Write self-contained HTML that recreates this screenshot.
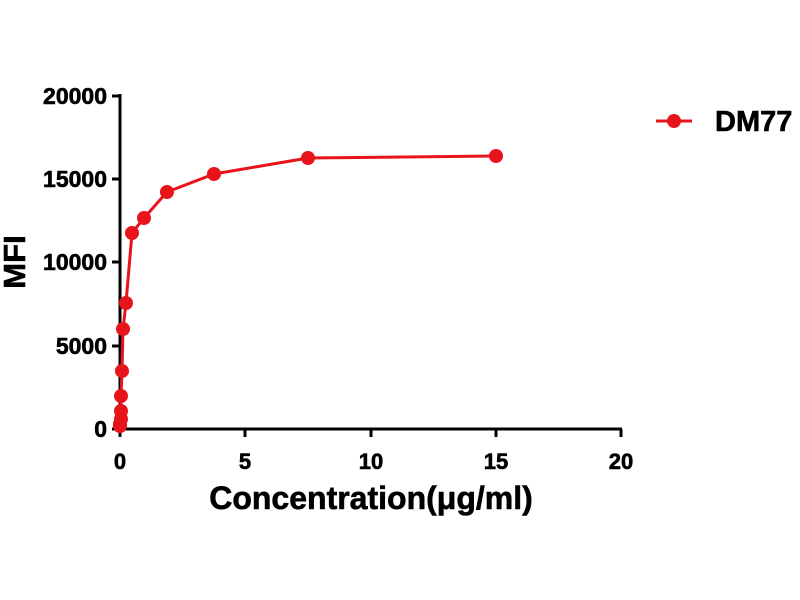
<!DOCTYPE html>
<html><head><style>body{margin:0;background:#fff}svg{display:block}</style></head><body>
<svg width="800" height="600" xmlns="http://www.w3.org/2000/svg" font-family="Liberation Sans, Arial, sans-serif" font-weight="bold">
<g stroke="#000" stroke-width="3" fill="none">
<line x1="120" y1="94" x2="120" y2="431"/>
<line x1="119" y1="429" x2="622" y2="429"/>
<line x1="112" y1="96" x2="120" y2="96"/>
<line x1="112" y1="179" x2="120" y2="179"/>
<line x1="112" y1="262" x2="120" y2="262"/>
<line x1="112" y1="346" x2="120" y2="346"/>
<line x1="112" y1="429" x2="120" y2="429"/>
<line x1="120" y1="429" x2="120" y2="437"/>
<line x1="245" y1="429" x2="245" y2="437"/>
<line x1="371" y1="429" x2="371" y2="437"/>
<line x1="496" y1="429" x2="496" y2="437"/>
<line x1="621" y1="429" x2="621" y2="437"/>
</g>
<g font-size="23" text-anchor="end" fill="#000" stroke="#000" stroke-width="0.6">
<text x="107" y="104">20000</text>
<text x="107" y="187">15000</text>
<text x="107" y="270">10000</text>
<text x="107" y="354">5000</text>
<text x="107" y="437">0</text>
</g>
<g font-size="22" text-anchor="middle" fill="#000" stroke="#000" stroke-width="0.6">
<text x="120" y="469">0</text>
<text x="245" y="469">5</text>
<text x="371" y="469">10</text>
<text x="496" y="469">15</text>
<text x="621" y="469">20</text>
</g>
<text x="371" y="509" font-size="32" text-anchor="middle" stroke="#000" stroke-width="0.6">Concentration(μg/ml)</text>
<text transform="translate(25,262) rotate(-90)" font-size="31" text-anchor="middle" stroke="#000" stroke-width="0.6">MFI</text>
<polyline fill="none" stroke="#e8141b" stroke-width="3" points="120,426 120,424 121,419 121,411 121,396 122,371 123,329 126,303 132,233 144,218 167,192 214,174 308,158 496,156"/>
<g fill="#e8141b">
<circle cx="120" cy="426" r="7"/><circle cx="120" cy="424" r="7"/><circle cx="121" cy="419" r="7"/>
<circle cx="121" cy="411" r="7"/><circle cx="121" cy="396" r="7"/><circle cx="122" cy="371" r="7"/>
<circle cx="123" cy="329" r="7"/><circle cx="126" cy="303" r="7"/><circle cx="132" cy="233" r="7"/>
<circle cx="144" cy="218" r="7"/><circle cx="167" cy="192" r="7"/><circle cx="214" cy="174" r="7"/>
<circle cx="308" cy="158" r="7"/><circle cx="496" cy="156" r="7"/>
<circle cx="674" cy="121" r="7"/>
</g>
<line x1="656" y1="121" x2="692" y2="121" stroke="#e8141b" stroke-width="3"/>
<text x="715" y="131" font-size="29" fill="#000" stroke="#000" stroke-width="0.6">DM77</text>
</svg>
</body></html>
